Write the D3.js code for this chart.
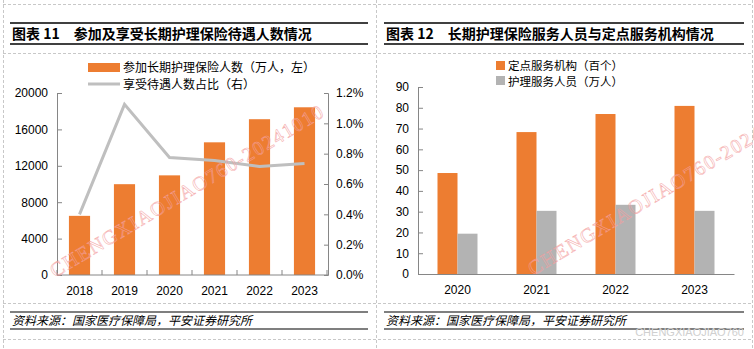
<!DOCTYPE html>
<html>
<head>
<meta charset="utf-8">
<script src="https://cdn.jsdelivr.net/npm/d3@7/dist/d3.min.js"></script>
<style>
body { margin: 0; background: #fff; }
svg { display: block; font-family: "Liberation Sans", Arial, sans-serif; }
.cjk { font-family: "Noto Sans CJK SC", sans-serif; }
.axis path, .axis line { stroke: #868686; }
.axis text { fill: #000; font-size: 12px; font-family: "Liberation Sans", Arial, sans-serif; }
</style>
</head>
<body>
<svg id="chart" width="754" height="349"></svg>
<script>
// left chart
const years1 = ["2018", "2019", "2020", "2021", "2022", "2023"];
const insured = [6500, 9980, 10950, 14580, 17120, 18430];   // 万人
const benefitRatio = [0.40, 1.125, 0.775, 0.755, 0.715, 0.735]; // %
const leftTicks = [0, 4000, 8000, 12000, 16000, 20000];
const rightTicks = [0, 0.2, 0.4, 0.6, 0.8, 1.0, 1.2];

// right chart
const years2 = ["2020", "2021", "2022", "2023"];
const institutions = [48.6, 68.3, 77.0, 80.9];  // 百个
const staff = [19.4, 30.4, 33.3, 30.4];        // 万人
const staffTicks = [0, 10, 20, 30, 40, 50, 60, 70, 80, 90];

const orange = "#ED7D31", gray = "#B3B3B3", lineGray = "#BFBFBF";

const svg = d3.select("#chart");

// dashed frame
const dash = svg.append("g").attr("stroke", "#c8c8c8").attr("stroke-dasharray", "3,2").attr("fill", "none");
[4, 53, 303, 339].forEach(y => dash.append("line").attr("x1", 3).attr("x2", 752).attr("y1", y + .5).attr("y2", y + .5));
[3, 376, 752].forEach(x => dash.append("line").attr("x1", x + .5).attr("x2", x + .5).attr("y1", 0).attr("y2", 349));

// titles and source
function header(x0, x1, title) {
  svg.append("line").attr("x1", x0).attr("x2", x1).attr("y1", 23).attr("y2", 23).attr("stroke", "#000").attr("stroke-width", 1.5);
  svg.append("line").attr("x1", x0).attr("x2", x1).attr("y1", 44).attr("y2", 44).attr("stroke", "#000").attr("stroke-width", 1.5);
  svg.append("text").attr("class", "cjk").attr("x", x0 + 2).attr("y", 39)
    .attr("font-size", 14).attr("font-weight", "bold").text(title);
  svg.append("line").attr("x1", x0).attr("x2", x1).attr("y1", 312).attr("y2", 312).attr("stroke", "#000").attr("stroke-width", 1.2);
  svg.append("line").attr("x1", x0).attr("x2", x1).attr("y1", 329).attr("y2", 329).attr("stroke", "#000").attr("stroke-width", 1.2);
  svg.append("text").attr("class", "cjk").attr("x", x0 + 2).attr("y", 325)
    .attr("font-size", 12).attr("font-style", "italic").text("资料来源：国家医疗保障局，平安证券研究所");
}
header(10, 368, "图表 11　参加及享受长期护理保险待遇人数情况");
header(384, 744, "图表 12　长期护理保险服务人员与定点服务机构情况");

// ---- left chart ----
const x1 = d3.scaleBand().domain(years1).range([57, 327]).paddingInner(0.53).paddingOuter(0.265);
const yL = d3.scaleLinear().domain([0, 20000]).range([275, 93]);
const yR = d3.scaleLinear().domain([0, 1.2]).range([275, 93]);

const g1 = svg.append("g");
g1.selectAll("rect").data(years1).join("rect")
  .attr("x", d => x1(d)).attr("width", x1.bandwidth())
  .attr("y", (d, i) => yL(insured[i])).attr("height", (d, i) => yL(0) - yL(insured[i]))
  .attr("fill", orange);

g1.append("g").attr("class", "axis").attr("transform", "translate(57,0)")
  .call(d3.axisLeft(yL).tickValues(leftTicks).tickFormat(d3.format("d")).tickSizeInner(-5).tickSizeOuter(-5).tickPadding(9));
g1.append("g").attr("class", "axis").attr("transform", "translate(328,0)")
  .call(d3.axisRight(yR).tickValues(rightTicks).tickFormat(d => d.toFixed(1) + "%").tickSizeInner(-4).tickSizeOuter(-4).tickPadding(8));

// bottom axis with ticks at band boundaries
const bx = g1.append("g").attr("class", "axis").attr("transform", "translate(0,275)");
bx.append("line").attr("x1", 57).attr("x2", 328).attr("stroke", "#868686");
const step1 = x1.step();
d3.range(years1.length + 1).forEach(i => {
  const xx = 57 + i * step1;
  bx.append("line").attr("x1", xx).attr("x2", xx).attr("y1", 0).attr("y2", -5).attr("stroke", "#868686");
});
bx.selectAll("text").data(years1).join("text")
  .attr("x", d => x1(d) + x1.bandwidth() / 2).attr("y", 20).attr("text-anchor", "middle").text(d => d);

const line = d3.line().x((d, i) => x1(years1[i]) + x1.bandwidth() / 2).y(d => yR(d));
g1.append("path").datum(benefitRatio).attr("d", line)
  .attr("fill", "none").attr("stroke", lineGray).attr("stroke-width", 3);

// left legend
g1.append("rect").attr("x", 88).attr("y", 63).attr("width", 32).attr("height", 9).attr("fill", orange);
g1.append("text").attr("class", "cjk").attr("x", 123).attr("y", 72).attr("font-size", 12).text("参加长期护理保险人数（万人，左）");
g1.append("line").attr("x1", 88).attr("x2", 120).attr("y1", 84).attr("y2", 84).attr("stroke", lineGray).attr("stroke-width", 3);
g1.append("text").attr("class", "cjk").attr("x", 123).attr("y", 88.5).attr("font-size", 12).text("享受待遇人数占比（右）");

// ---- right chart ----
const x2 = d3.scaleBand().domain(years2).range([418, 734]);
const sub = d3.scaleBand().domain(["inst", "staff"]).range([0, 40]).padding(0);
const y2 = d3.scaleLinear().domain([0, 90]).range([274, 87]);

const g2 = svg.append("g");
const groups = g2.selectAll("g.grp").data(years2).join("g").attr("class", "grp")
  .attr("transform", d => `translate(${x2(d) + (x2.bandwidth() - 40) / 2},0)`);
groups.append("rect").attr("x", sub("inst")).attr("width", sub.bandwidth())
  .attr("y", (d, i) => y2(institutions[i])).attr("height", (d, i) => y2(0) - y2(institutions[i])).attr("fill", orange);
groups.append("rect").attr("x", sub("staff")).attr("width", sub.bandwidth())
  .attr("y", (d, i) => y2(staff[i])).attr("height", (d, i) => y2(0) - y2(staff[i])).attr("fill", gray);

g2.append("g").attr("class", "axis").attr("transform", "translate(418,0)")
  .call(d3.axisLeft(y2).tickValues(staffTicks).tickSizeInner(-5).tickSizeOuter(-5).tickPadding(9));
g2.append("g").attr("class", "axis").attr("transform", "translate(0,274)")
  .call(d3.axisBottom(x2).tickSize(0).tickSizeOuter(0).tickPadding(11));

// right legend
g2.append("rect").attr("x", 496).attr("y", 61).attr("width", 9).attr("height", 9).attr("fill", orange);
g2.append("text").attr("class", "cjk").attr("x", 508).attr("y", 70).attr("font-size", 11.5).text("定点服务机构（百个）");
g2.append("rect").attr("x", 496).attr("y", 76).attr("width", 9).attr("height", 9).attr("fill", gray);
g2.append("text").attr("class", "cjk").attr("x", 508).attr("y", 85.5).attr("font-size", 11.5).text("护理服务人员（万人）");

// watermarks
const wm = "CHENGXIAOJIAO760-20241010";
[[55, 278], [533, 276]].forEach(([wx, wy]) => {
  svg.append("text").attr("transform", `translate(${wx},${wy}) rotate(-31)`)
    .attr("font-family", "Liberation Serif, serif").attr("font-size", 20).attr("letter-spacing", 1.5)
    .attr("fill", "none").attr("stroke", "#f4a0a0").attr("stroke-width", 0.6).attr("opacity", 0.8)
    .text(wm);
});
svg.append("text").attr("x", 744).attr("y", 336).attr("text-anchor", "end")
  .attr("font-size", 11).attr("fill", "#d0d0d0").text("CHENGXIAOJIAO760");
</script>
</body>
</html>
